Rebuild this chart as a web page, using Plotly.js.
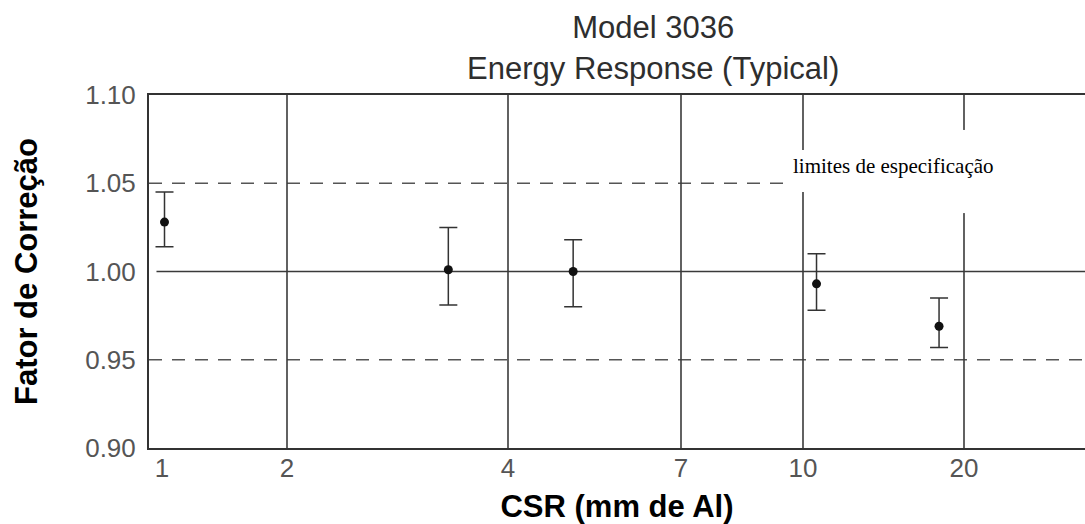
<!DOCTYPE html>
<html><head><meta charset="utf-8">
<script src="https://cdn.plot.ly/plotly-3.0.1.min.js"></script>
<style>html,body{margin:0;padding:0;background:#fff}#chart{width:1085px;height:524px}</style>
</head><body><div id="chart"></div>
<script>
// ---- data ----
const csrTickLabels = ['1', '2', '4', '7', '10', '20'];
const csrTickValues = [1, 2, 4, 7, 10, 20];
// non-uniform printed scale: axis coordinate of each labelled CSR value
const csrTickAxisPos = [0.13, 1.38, 3.59, 5.32, 6.54, 8.15];
const csrPoints = [1.02, 3.46, 5.13, 10.84, 18.45];
const correctionFactor = [1.028, 1.001, 1.000, 0.993, 0.969];
const errorUpper = [1.045, 1.025, 1.018, 1.010, 0.985];
const errorLower = [1.014, 0.981, 0.980, 0.978, 0.957];
const specLimits = [0.95, 1.05];
const referenceLevel = 1.00;
const yTickValues = [0.90, 0.95, 1.00, 1.05, 1.10];
const yRange = [0.90, 1.10];
const specLabel = 'limites de especificação';

// piecewise-linear mapping of CSR onto the printed (non-uniform) axis
function csrToAxis(v) {
  for (let i = 0; i < csrTickValues.length - 1; i++) {
    const a = csrTickValues[i], b = csrTickValues[i + 1];
    if (v <= b || i === csrTickValues.length - 2) {
      const f = (v - a) / (b - a);
      return csrTickAxisPos[i] + f * (csrTickAxisPos[i + 1] - csrTickAxisPos[i]);
    }
  }
}
const xPos = csrPoints.map(csrToAxis);

const trace = {
  type: 'scatter', mode: 'markers',
  x: xPos, y: correctionFactor,
  text: csrPoints.map(String),
  marker: {size: 9, color: '#111'},
  error_y: {
    type: 'data', symmetric: false,
    array: errorUpper.map((u, i) => u - correctionFactor[i]),
    arrayminus: errorLower.map((l, i) => correctionFactor[i] - l),
    color: '#333', thickness: 1.5, width: 9
  },
  showlegend: false, hoverinfo: 'x+y'
};

const xMax = 9.36;
const shapes = [];
// vertical grid lines at labelled CSR values (not at the first, which sits by the frame)
csrTickAxisPos.slice(1).forEach(p => {
  shapes.push({type: 'line', xref: 'x', yref: 'y', x0: p, x1: p, y0: yRange[0], y1: yRange[1],
    line: {color: '#3a3a3a', width: 1.6}, layer: 'below'});
});
// reference line
shapes.push({type: 'line', xref: 'paper', yref: 'y', x0: 0.008, x1: 1, y0: referenceLevel, y1: referenceLevel,
  line: {color: '#3a3a3a', width: 1.6}, layer: 'below'});
// specification limits
specLimits.forEach(v => {
  shapes.push({type: 'line', xref: 'paper', yref: 'y', x0: 0, x1: 1, y0: v, y1: v,
    line: {color: '#555', width: 1.6, dash: '13px,10px'}, layer: 'below'});
});
// gap in the "20" grid line in the scan
shapes.push({type: 'rect', xref: 'x', yref: 'y', x0: csrTickAxisPos[5] - 0.04, x1: csrTickAxisPos[5] + 0.04,
  y0: 1.0331, y1: 1.0802, fillcolor: '#fff', line: {width: 0}, layer: 'above'});
// white label box
shapes.push({type: 'rect', xref: 'x', yref: 'y', x0: 6.41, x1: 9.34, y0: 1.045, y1: 1.0688,
  fillcolor: '#fff', line: {width: 0}, layer: 'above'});

const layout = {
  width: 1085, height: 524,
  margin: {l: 149, r: 0, t: 95, b: 76},
  paper_bgcolor: '#fff', plot_bgcolor: '#fff',
  font: {family: 'Arial, "Liberation Sans", sans-serif', color: '#444'},
  title: {
    text: 'Model 3036<br>Energy Response (Typical)',
    font: {family: 'Arial, "Liberation Sans", sans-serif', size: 31, color: '#2e2e2e'},
    xref: 'container', x: 0.602, xanchor: 'center',
    yref: 'container', y: 0.927, yanchor: 'top'
  },
  xaxis: {
    range: [0, xMax], tickmode: 'array', tickvals: csrTickAxisPos, ticktext: csrTickLabels,
    showgrid: false, zeroline: false, showline: true, mirror: true, linecolor: '#333', linewidth: 2,
    ticks: '', tickfont: {size: 26, color: '#555'}, ticklabelstandoff: -4,
    title: {text: 'CSR (mm de Al)', font: {size: 31, color: '#000', weight: 'bold'}, standoff: 14},
    fixedrange: true
  },
  yaxis: {
    range: yRange, tickmode: 'array', tickvals: yTickValues, tickformat: '.2f',
    showgrid: false, zeroline: false, showline: true, mirror: false, linecolor: '#333', linewidth: 2,
    ticks: '', tickfont: {size: 26, color: '#555'}, ticklabelstandoff: 6,
    title: {text: 'Fator de Correção', font: {size: 31, color: '#000', weight: 'bold'}, standoff: 38},
    fixedrange: true
  },
  shapes: shapes,
  annotations: [{
    text: specLabel, xref: 'x', yref: 'y', x: 6.42, y: 1.0598, xanchor: 'left', yanchor: 'middle',
    showarrow: false, font: {family: '"Liberation Serif", "Times New Roman", serif', size: 21, color: '#000'}
  }]
};

Plotly.newPlot('chart', [trace], layout, {displayModeBar: false, staticPlot: true});
</script>
</body></html>
